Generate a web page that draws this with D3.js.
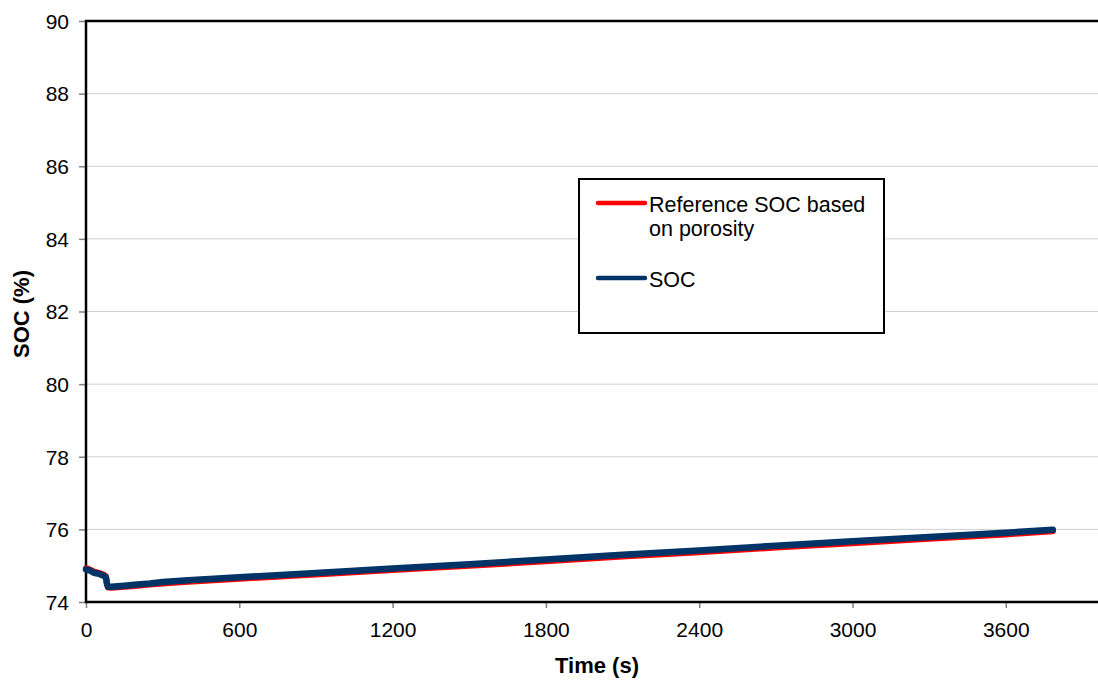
<!DOCTYPE html>
<html>
<head>
<meta charset="utf-8">
<script src="https://cdn.jsdelivr.net/npm/d3@7"></script>
<style>
    html, body { margin: 0; padding: 0; background: white; }
    svg { display: block; font-family: "Liberation Sans", Arial, sans-serif; }
</style>
</head>
<body>
<svg id="chart" width="1098" height="682"></svg>
<script>
var PLOT = { left: 86, top: 21, right: 1108, bottom: 602 };
var REF_COLOR = '#ff0000';
var SOC_COLOR = '#003366';
var GRID_COLOR = '#d0d0d0';
var TICK_COLOR = '#808080';

// values
var timeS = [0, 10, 20, 30, 40, 50, 60, 70, 78, 82, 86, 100, 150, 200, 250, 300, 400, 600, 900, 1200, 1500, 1800, 2100, 2400, 2700, 3000, 3300, 3600, 3784];
var socValues = [74.90, 74.88, 74.85, 74.81, 74.79, 74.78, 74.75, 74.72, 74.68, 74.50, 74.42, 74.42, 74.45, 74.48, 74.51, 74.55, 74.60, 74.68, 74.80, 74.92, 75.04, 75.17, 75.30, 75.42, 75.55, 75.67, 75.79, 75.91, 75.99];
var refValues = [74.93, 74.91, 74.88, 74.84, 74.82, 74.80, 74.78, 74.75, 74.71, 74.50, 74.40, 74.39, 74.42, 74.45, 74.48, 74.51, 74.56, 74.64, 74.76, 74.88, 75.00, 75.12, 75.25, 75.37, 75.50, 75.62, 75.74, 75.86, 75.95];
var xTicks = [0, 600, 1200, 1800, 2400, 3000, 3600];
var yTicks = [74, 76, 78, 80, 82, 84, 86, 88, 90];
var seriesNames = ['Reference SOC based|on porosity', 'SOC'];

var svg = d3.select('#chart');
var xScale = d3.scaleLinear().domain([0, 4000]).range([PLOT.left, PLOT.right]);
var yScale = d3.scaleLinear().domain([74, 90]).range([PLOT.bottom, PLOT.top]);

// horizontal grid lines
svg.append('g').selectAll('line').
    data(yTicks.filter(function (d) { return d > 74 && d < 90; })).enter().append('line').
    attr('x1', PLOT.left).attr('x2', PLOT.right).
    attr('y1', function (d) { return yScale(d); }).
    attr('y2', function (d) { return yScale(d); }).
    style('stroke', GRID_COLOR).style('stroke-width', 1);

var yAxis = svg.append('g').
    attr('transform', 'translate(' + PLOT.left + ',0)').
    call(d3.axisLeft(yScale).tickValues(yTicks).tickFormat(d3.format('d')).tickSize(7).tickPadding(10));
var xAxis = svg.append('g').
    attr('transform', 'translate(0,' + PLOT.bottom + ')').
    call(d3.axisBottom(xScale).tickValues(xTicks).tickFormat(d3.format('d')).tickSize(6).tickPadding(14));

[yAxis, xAxis].forEach(function (axis) {
    axis.select('.domain').remove();
    axis.selectAll('.tick line').style('stroke', TICK_COLOR).style('stroke-width', 1.5);
    axis.selectAll('.tick text').
        style('font-size', '21px').
        style('font-family', '"Liberation Sans", Arial, sans-serif').
        style('fill', '#000');
});
yAxis.selectAll('.tick text').attr('dy', '0.35em');

// plot frame (the right side runs off the page)
svg.append('path').
    attr('d', 'M' + PLOT.right + ',' + PLOT.top + 'H' + PLOT.left + 'V' + PLOT.bottom + 'H' + PLOT.right).
    style('fill', 'none').style('stroke', '#000').style('stroke-width', 2.5);

var line = d3.line().
    x(function (d) { return xScale(d[0]); }).
    y(function (d) { return yScale(d[1]); });

var refPoints = timeS.map(function (t, i) { return [t, refValues[i]]; });
var socPoints = timeS.map(function (t, i) { return [t, socValues[i]]; });

svg.append('path').datum(refPoints).
    attr('d', line).
    style('fill', 'none').style('stroke', REF_COLOR).style('stroke-width', 6).
    style('stroke-linejoin', 'round').style('stroke-linecap', 'round');
svg.append('path').datum(socPoints).
    attr('d', line).
    style('fill', 'none').style('stroke', SOC_COLOR).style('stroke-width', 6.5).
    style('stroke-linejoin', 'round').style('stroke-linecap', 'round');

// axis titles
svg.append('text').
    attr('x', (PLOT.left + PLOT.right) / 2).attr('y', 673).
    attr('text-anchor', 'middle').
    style('font-size', '22px').style('font-weight', 'bold').
    text('Time (s)');
svg.append('text').
    attr('transform', 'translate(29,314)rotate(-90)').
    attr('text-anchor', 'middle').
    style('font-size', '22px').style('font-weight', 'bold').
    text('SOC (%)');

// legend
var legend = svg.append('g');
legend.append('rect').
    attr('x', 579).attr('y', 179).attr('width', 305).attr('height', 154).
    style('fill', 'white').style('stroke', '#000').style('stroke-width', 2);
var legendRows = [
    { name: seriesNames[0], color: REF_COLOR, y: 203 },
    { name: seriesNames[1], color: SOC_COLOR, y: 278 }
];
legendRows.forEach(function (row) {
    legend.append('line').
        attr('x1', 598).attr('x2', 645).attr('y1', row.y).attr('y2', row.y).
        style('stroke', row.color).style('stroke-width', 4.5).style('stroke-linecap', 'round');
    var text = legend.append('text').
        attr('x', 649).attr('y', row.y + 9).
        style('font-size', '21.5px');
    row.name.split('|').forEach(function (part, i) {
        text.append('tspan').attr('x', 649).attr('dy', i == 0 ? 0 : 24).text(part);
    });
});
</script>
</body>
</html>
